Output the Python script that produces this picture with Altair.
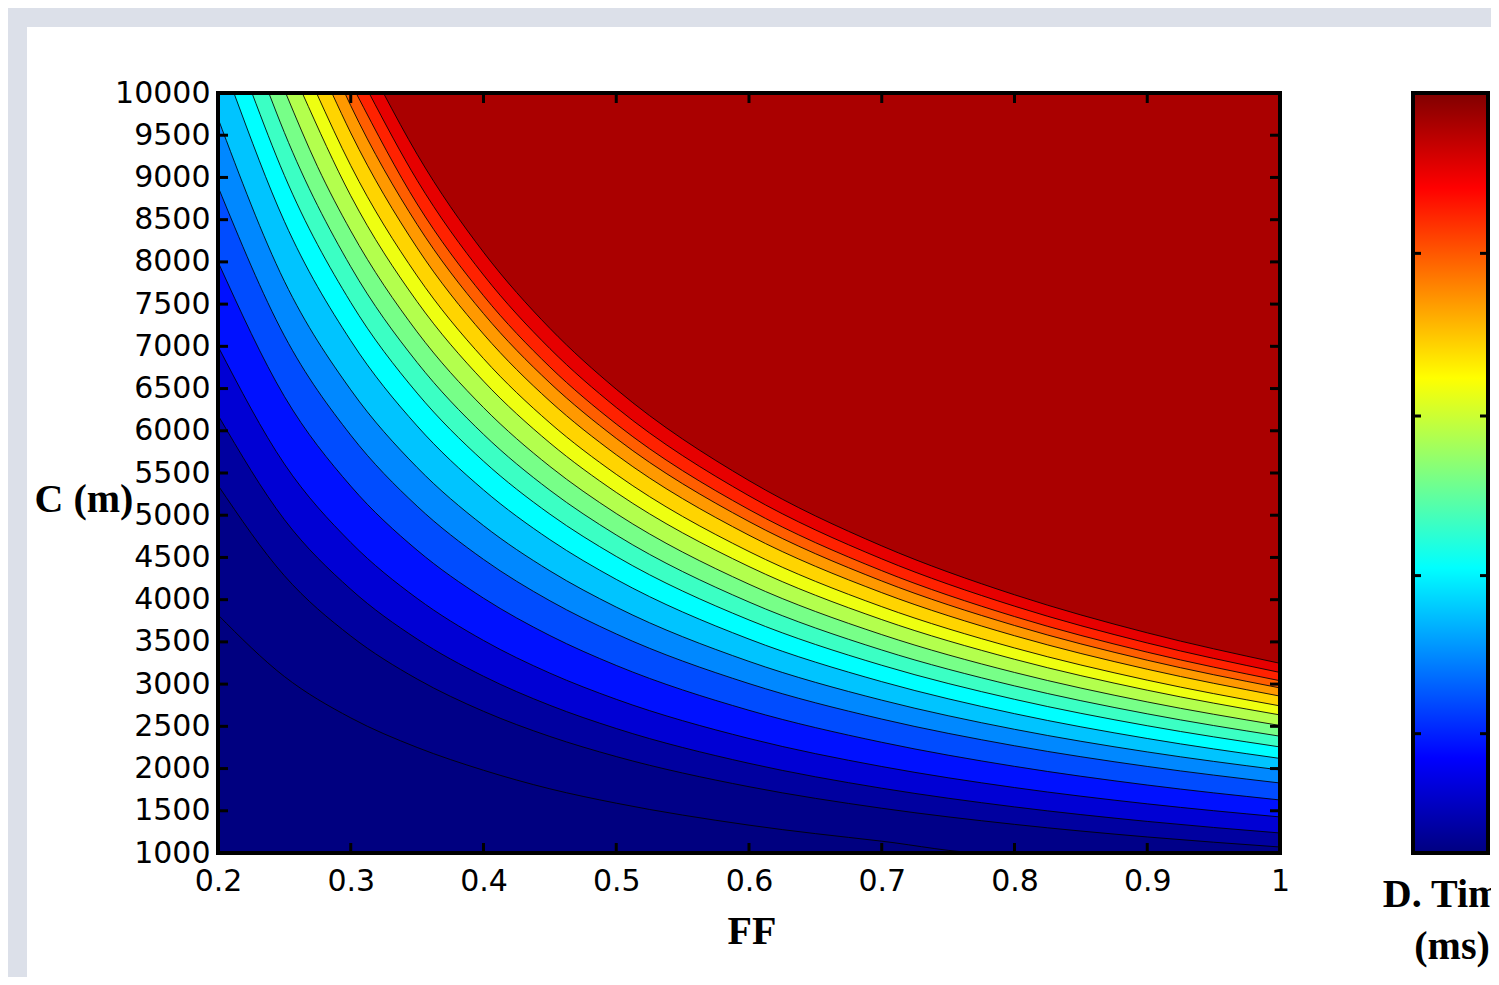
import altair as alt
import pandas as pd

# ---------------- data ----------------
X_TICKS = [0.2, 0.3, 0.4, 0.5, 0.6, 0.7, 0.8, 0.9, 1.0]
Y_TICKS = [1000, 1500, 2000, 2500, 3000, 3500, 4000, 4500, 5000, 5500,
           6000, 6500, 7000, 7500, 8000, 8500, 9000, 9500, 10000]

# contour lines: (FF, C) points, labelled by C at FF = 1
c780 = [(0.20, 3820), (0.25, 3090), (0.30, 2600), (0.35, 2250), (0.40, 1980), (0.45, 1760),
        (0.50, 1590), (0.60, 1330), (0.70, 1140), (0.78, 1000), (0.90, 1000), (1.00, 1000)]
c1071 = [(0.20, 5355), (0.25, 4284), (0.30, 3570), (0.35, 3060), (0.40, 2678), (0.45, 2380),
         (0.50, 2142), (0.60, 1785), (0.70, 1530), (0.80, 1339), (0.90, 1190), (1.00, 1071)]
c1237 = [(0.20, 6185), (0.25, 4948), (0.30, 4123), (0.35, 3534), (0.40, 3093), (0.45, 2749),
         (0.50, 2474), (0.60, 2062), (0.70, 1767), (0.80, 1546), (0.90, 1374), (1.00, 1237)]
c1427 = [(0.20, 7000), (0.25, 5607), (0.30, 4678), (0.35, 4015), (0.40, 3517), (0.45, 3130),
         (0.50, 2820), (0.60, 2356), (0.70, 2024), (0.80, 1775), (0.90, 1582), (1.00, 1427)]
c1628 = [(0.20, 8000), (0.25, 6407), (0.30, 5345), (0.35, 4586), (0.40, 4018), (0.45, 3575),
         (0.50, 3221), (0.60, 2690), (0.70, 2311), (0.80, 2026), (0.90, 1805), (1.00, 1628)]
c1829 = [(0.20, 8890), (0.25, 7125), (0.30, 5948), (0.35, 5107), (0.40, 4477), (0.45, 3987),
         (0.50, 3594), (0.60, 3006), (0.70, 2586), (0.80, 2270), (0.90, 2025), (1.00, 1829)]
c1983 = [(0.20, 9700), (0.25, 7771), (0.30, 6485), (0.35, 5566), (0.40, 4877), (0.45, 4341),
         (0.50, 3912), (0.60, 3269), (0.70, 2810), (0.80, 2465), (0.90, 2197), (1.00, 1983)]
c2120 = [(0.212, 10000), (0.25, 8480), (0.30, 7067), (0.35, 6057), (0.40, 5300), (0.45, 4711),
         (0.50, 4240), (0.60, 3533), (0.70, 3029), (0.80, 2650), (0.90, 2356), (1.00, 2120)]
c2256 = [(0.2256, 10000), (0.25, 9024), (0.30, 7520), (0.35, 6446), (0.40, 5640), (0.45, 5013),
         (0.50, 4512), (0.60, 3760), (0.70, 3223), (0.80, 2820), (0.90, 2507), (1.00, 2256)]
c2383 = [(0.2383, 10000), (0.25, 9532), (0.30, 7943), (0.35, 6809), (0.40, 5958), (0.45, 5296),
         (0.50, 4766), (0.60, 3972), (0.70, 3404), (0.80, 2979), (0.90, 2648), (1.00, 2383)]
c2510 = [(0.251, 10000), (0.275, 9127), (0.30, 8367), (0.35, 7171), (0.40, 6275), (0.45, 5578),
         (0.50, 5020), (0.60, 4183), (0.70, 3586), (0.80, 3138), (0.90, 2789), (1.00, 2510)]
c2635 = [(0.2635, 10000), (0.30, 8783), (0.35, 7529), (0.40, 6588), (0.45, 5856),
         (0.50, 5270), (0.60, 4392), (0.70, 3764), (0.80, 3294), (0.90, 2928), (1.00, 2635)]
c2742 = [(0.2742, 10000), (0.30, 9140), (0.35, 7834), (0.40, 6855), (0.45, 6093),
         (0.50, 5484), (0.60, 4570), (0.70, 3917), (0.80, 3428), (0.90, 3047), (1.00, 2742)]
c2858 = [(0.2858, 10000), (0.30, 9527), (0.35, 8166), (0.40, 7145), (0.45, 6351),
         (0.50, 5716), (0.60, 4763), (0.70, 4083), (0.80, 3573), (0.90, 3176), (1.00, 2858)]
c2955 = [(0.2955, 10000), (0.30, 9850), (0.35, 8443), (0.40, 7388), (0.45, 6567),
         (0.50, 5910), (0.60, 4925), (0.70, 4221), (0.80, 3694), (0.90, 3283), (1.00, 2955)]
c3040 = [(0.304, 10000), (0.35, 8686), (0.40, 7600), (0.45, 6756),
         (0.50, 6080), (0.60, 5067), (0.70, 4343), (0.80, 3800), (0.90, 3378), (1.00, 3040)]
c3138 = [(0.3138, 10000), (0.35, 8966), (0.40, 7845), (0.45, 6973),
         (0.50, 6276), (0.60, 5230), (0.70, 4483), (0.80, 3923), (0.90, 3487), (1.00, 3138)]
c3246 = [(0.3246, 10000), (0.35, 9274), (0.40, 8115), (0.45, 7213),
         (0.50, 6492), (0.60, 5410), (0.70, 4637), (0.80, 4058), (0.90, 3607), (1.00, 3246)]

LEVELS = [780, 1071, 1237, 1427, 1628, 1829, 1983, 2120, 2256,
          2383, 2510, 2635, 2742, 2858, 2955, 3040, 3138, 3246]
CONTOURS = [c780, c1071, c1237, c1427, c1628, c1829, c1983, c2120, c2256,
            c2383, c2510, c2635, c2742, c2858, c2955, c3040, c3138, c3246]
BASE_COLOR = "#000080"
BAND_COLORS = ["#000088", "#0000a0", "#0000d4", "#0011ff", "#004cff", "#0088ff",
               "#00c4ff", "#00ffff", "#3bffc4", "#77ff88", "#b3ff4d", "#eeff11",
               "#ffd400", "#ff9900", "#ff5e00", "#ff2200", "#e60000", "#aa0000"]

CBAR_TICKS = [0.157, 0.365, 0.575, 0.789]
JET_STOPS = [(0.0, "#000080"), (0.125, "#0000ff"), (0.375, "#00ffff"),
             (0.625, "#ffff00"), (0.875, "#ff0000"), (1.0, "#800000")]

X_TITLE = "FF"
Y_TITLE = "C (m)"
CBAR_TITLE_1 = "D. Time"
CBAR_TITLE_2 = "(ms)"

# ---------------- chart ----------------
W, H = 1062, 760
PAD_L, PAD_T, PAD_R, PAD_B = 210, 85, 211, 124
xs = alt.Scale(domain=[0.2, 1.0], nice=False, zero=False)
ys = alt.Scale(domain=[1000, 10000], nice=False, zero=False)
AX_X = alt.Axis(values=X_TICKS, format="~g", title=None, ticks=False, domain=False,
                grid=False, labelPadding=13, labelFlush=False, labelOverlap=False,
                zindex=1)
AX_Y = alt.Axis(values=Y_TICKS, format="d", title=None, ticks=False, domain=False,
                grid=False, labelPadding=8, labelOverlap=False, zindex=1)

frame_df = pd.DataFrame({"x0": [0.2], "x1": [1.0], "y0": [1000], "y1": [10000]})

panel = alt.Chart(frame_df).mark_rect(color="white").encode(
    x=alt.value(-191), x2=alt.value(W + PAD_R + 50), y=alt.value(-66), y2=alt.value(H + PAD_B + 50))

base = alt.Chart(frame_df).mark_rect(color=BASE_COLOR).encode(
    x=alt.X("x0:Q", scale=xs, axis=AX_X), x2="x1:Q",
    y=alt.Y("y0:Q", scale=ys, axis=AX_Y), y2="y1:Q")

layers = [panel, base]
rows = []
for lvl, pts, col in zip(LEVELS, CONTOURS, BAND_COLORS):
    df = pd.DataFrame(pts, columns=["FF", "C"])
    df["top"] = 10000
    df["level"] = lvl
    rows.append(df)
    layers.append(
        alt.Chart(df).mark_area(color=col, interpolate="monotone").encode(
            x=alt.X("FF:Q", scale=xs, axis=AX_X),
            y=alt.Y("C:Q", scale=ys, axis=AX_Y, stack=None),
            y2="top:Q"))

lines_df = pd.concat(rows, ignore_index=True)
lines = alt.Chart(lines_df).mark_line(color="black", strokeWidth=1, opacity=0.85,
                                      interpolate="monotone").encode(
    x=alt.X("FF:Q", scale=xs, axis=AX_X),
    y=alt.Y("C:Q", scale=ys, axis=AX_Y),
    detail="level:N")
layers.append(lines)

xt_df = pd.DataFrame({"FF": X_TICKS})
yt_df = pd.DataFrame({"C": Y_TICKS})
TL = 10
top_ticks = alt.Chart(xt_df).mark_rule(color="black", strokeWidth=3).encode(
    x=alt.X("FF:Q", scale=xs, axis=AX_X), y=alt.value(0), y2=alt.value(TL))
bot_ticks = alt.Chart(xt_df).mark_rule(color="black", strokeWidth=3).encode(
    x=alt.X("FF:Q", scale=xs, axis=AX_X), y=alt.value(H - TL), y2=alt.value(H))
left_ticks = alt.Chart(yt_df).mark_rule(color="black", strokeWidth=3).encode(
    y=alt.Y("C:Q", scale=ys, axis=AX_Y), x=alt.value(0), x2=alt.value(TL))
right_ticks = alt.Chart(yt_df).mark_rule(color="black", strokeWidth=3).encode(
    y=alt.Y("C:Q", scale=ys, axis=AX_Y), x=alt.value(W - TL), x2=alt.value(W))
frame = alt.Chart(frame_df).mark_rect(filled=False, stroke="black", strokeWidth=4).encode(
    x=alt.X("x0:Q", scale=xs, axis=AX_X), x2="x1:Q",
    y=alt.Y("y0:Q", scale=ys, axis=AX_Y), y2="y1:Q")
layers += [top_ticks, bot_ticks, left_ticks, right_ticks, frame]

title_font = dict(font="Liberation Serif", fontWeight="bold", fontSize=40,
                  color="black", align="center", baseline="middle")
txt_df = pd.DataFrame({"t": [X_TITLE, Y_TITLE, CBAR_TITLE_1, CBAR_TITLE_2]})
layers.append(alt.Chart(txt_df).transform_filter(alt.datum.t == X_TITLE)
              .mark_text(**title_font).encode(text="t:N", x=alt.value(534), y=alt.value(839)))
layers.append(alt.Chart(txt_df).transform_filter(alt.datum.t == Y_TITLE)
              .mark_text(**title_font).encode(text="t:N", x=alt.value(-134), y=alt.value(407)))
layers.append(alt.Chart(txt_df).transform_filter(alt.datum.t == CBAR_TITLE_1)
              .mark_text(**title_font).encode(text="t:N", x=alt.value(1233), y=alt.value(802)))
layers.append(alt.Chart(txt_df).transform_filter(alt.datum.t == CBAR_TITLE_2)
              .mark_text(**title_font).encode(text="t:N", x=alt.value(1234), y=alt.value(854)))

main = alt.layer(*layers)

# colorbar
CB_X0, CB_X1 = 1195, 1270
grad = alt.LinearGradient(gradient="linear", x1=0, x2=0, y1=1, y2=0,
                          stops=[alt.GradientStop(offset=o, color=c) for o, c in JET_STOPS])
cb_rect = alt.Chart(frame_df).mark_rect(fill=grad, stroke="black", strokeWidth=4).encode(
    x=alt.value(CB_X0), x2=alt.value(CB_X1), y=alt.value(0), y2=alt.value(H))
cb_df = pd.DataFrame({"f": CBAR_TICKS})
cbs = alt.Scale(domain=[0, 1], nice=False, zero=False)
cb_tl = alt.Chart(cb_df).mark_rule(color="black", strokeWidth=3).encode(
    y=alt.Y("f:Q", scale=cbs, axis=None), x=alt.value(CB_X0), x2=alt.value(CB_X0 + 8))
cb_tr = alt.Chart(cb_df).mark_rule(color="black", strokeWidth=3).encode(
    y=alt.Y("f:Q", scale=cbs, axis=None), x=alt.value(CB_X1 - 8), x2=alt.value(CB_X1))
cbar = alt.layer(cb_rect, cb_tl, cb_tr)

chart = alt.layer(main, cbar).resolve_scale(y="independent").properties(
    width=W, height=H,
    padding={"left": PAD_L, "top": PAD_T, "right": PAD_R, "bottom": PAD_B},
    autosize=alt.AutoSizeParams(type="none"),
    background="#dce0e9",
).configure_view(strokeWidth=0).configure_axis(
    labelFont="DejaVu Sans", labelFontSize=30, labelColor="black")

chart.save("out.html", embed_options={"renderer": "svg", "actions": False})
